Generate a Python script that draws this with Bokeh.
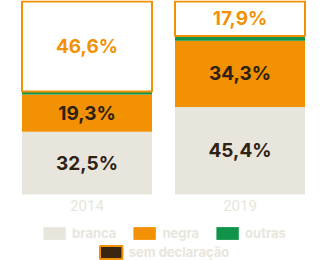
import numpy as np
from bokeh.plotting import figure
from bokeh.models import ColumnDataSource, FactorRange, Range1d, Legend, LegendItem
from bokeh.core.properties import value
from bokeh.embed import file_html
from bokeh.resources import INLINE

# ---- data ----
years = ["2014", "2019"]
branca = [32.5, 45.4]
negra = [19.3, 34.3]
outras = [1.6, 2.4]
sem_declaracao = [46.6, 17.9]
categorias = ["branca", "negra", "outras", "sem declaração"]

BEIGE = "#e8e6dc"
ORANGE = "#f29104"
GREEN = "#0f944a"
BROWN = "#3a2611"
DARK = "#2f2113"
FONT = "Inter"

src = ColumnDataSource(data={"year": years, "branca": branca, "negra": negra,
                             "outras": outras, "sem declaração": sem_declaracao})

# frame covers the whole picture height; the bars occupy the upper 194 px
PX_PER_UNIT = 1.93
y_end = 100 + 1 / PX_PER_UNIT
y_start = -(260 - 194) / PX_PER_UNIT

p = figure(x_range=FactorRange(*years), y_range=Range1d(y_start, y_end),
           frame_width=306, frame_height=260,
           min_border_left=10, min_border_right=12, min_border_top=0, min_border_bottom=0,
           x_axis_location=None, y_axis_location=None,
           output_backend="svg", toolbar_location=None,
           outline_line_color=None, background_fill_color="white", border_fill_color="white")
p.xgrid.visible = False
p.ygrid.visible = False

bars = p.vbar_stack(categorias, x="year", width=0.85, source=src,
                    fill_color=[BEIGE, ORANGE, GREEN, "white"],
                    line_color=[None, None, None, ORANGE],
                    line_width=[0, 0, 0, 2])

# value labels
stack = np.array([branca, negra, outras, sem_declaracao])
tops = np.cumsum(stack, axis=0)
mids = tops - stack / 2
lx, ly, lt, lc = [], [], [], []
for i, cat in enumerate(categorias):
    if cat == "outras":
        continue
    for j, yr in enumerate(years):
        lx.append(yr)
        ly.append(mids[i, j])
        lt.append(f"{stack[i, j]:.1f}".replace(".", ",") + "%")
        lc.append(ORANGE if cat == "sem declaração" else DARK)
lab = ColumnDataSource(data=dict(x=lx, y=ly, t=lt, c=lc))
p.text(x="x", y="y", text="t", text_color="c", source=lab,
       text_font=value(FONT), text_font_style="bold", text_font_size="19px",
       text_align="center", text_baseline="middle")

# category (year) labels under each bar
ysrc = ColumnDataSource(data=dict(x=years, y=[0] * len(years), t=years))
p.text(x="x", y="y", text="t", source=ysrc, y_offset=11,
       text_font=value("Roboto"), text_font_size="15px", text_color=BEIGE,
       text_align="center", text_baseline="middle")

# legend swatch for "sem declaração" (dark fill, orange outline); its only
# point lies outside the visible range so nothing is drawn in the plot
proxy_src = ColumnDataSource(data=dict(x=[years[0]], y=[y_start - 1000]))
proxy = p.rect(x="x", y="y", width=0.1, height=1, source=proxy_src,
               fill_color=BROWN, line_color=ORANGE, line_width=2)

leg_renderers = [bars[0], bars[1], bars[2], proxy]

def make_legend(idx, margin):
    return Legend(items=[LegendItem(label=categorias[i], renderers=[leg_renderers[i]]) for i in idx],
                  orientation="horizontal", location="bottom_center",
                  glyph_width=28, glyph_height=16, label_height=16, label_standoff=4,
                  spacing=14, margin=margin, padding=0,
                  label_text_font=FONT, label_text_font_style="bold",
                  label_text_font_size="13px", label_text_color=BEIGE,
                  border_line_color=None, background_fill_alpha=0)

p.add_layout(make_legend([0, 1, 2], 19), "center")
p.add_layout(make_legend([3], 0), "center")

open("out.html", "w").write(file_html(p, INLINE))
